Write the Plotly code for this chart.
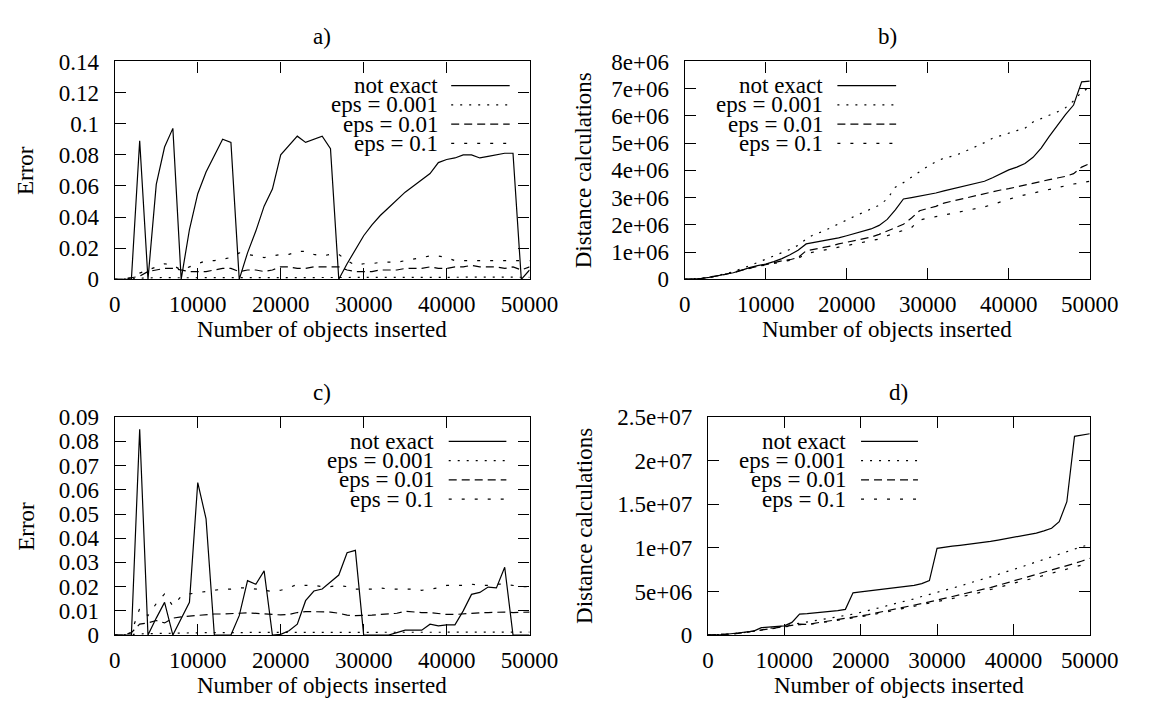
import plotly.graph_objects as go

# ---------------- data ----------------
x_objects = [0, 1000, 2000, 3000, 4000, 5000, 6000, 7000, 8000, 9000,
             10000, 11000, 12000, 13000, 14000, 15000, 16000, 17000, 18000, 19000,
             20000, 21000, 22000, 23000, 24000, 25000, 26000, 27000, 28000, 29000,
             30000, 31000, 32000, 33000, 34000, 35000, 36000, 37000, 38000, 39000,
             40000, 41000, 42000, 43000, 44000, 45000, 46000, 47000, 48000, 49000,
             50000]

series_names = ["not exact", "eps = 0.001", "eps = 0.01", "eps = 0.1"]

# panel a) error
a_not_exact = [0, 0, 0, 0.089, 0, 0.061, 0.085, 0.097, 0, 0.032,
               0.055, 0.069, 0.079, 0.090, 0.088, 0, 0.017, 0.031, 0.047, 0.058,
               0.080, 0.086, 0.092, 0.088, 0.090, 0.092, 0.084, 0, 0.010, 0.019,
               0.028, 0.035, 0.041, 0.046, 0.051, 0.056, 0.060, 0.064, 0.068, 0.075,
               0.077, 0.078, 0.080, 0.080, 0.078, 0.079, 0.080, 0.081, 0.081, 0,
               0.006]
a_eps_0001 = [0, 0, 0.0003, 0.0008, 0.001, 0.0012, 0.0012, 0.001, 0.001, 0.0011,
              0.0012, 0.0012, 0.0011, 0.001, 0.001, 0.0009, 0.001, 0.0011, 0.0012, 0.0012,
              0.0012, 0.0011, 0.0012, 0.0013, 0.0012, 0.0012, 0.0011, 0.001, 0.0011, 0.0012,
              0.0012, 0.0013, 0.0013, 0.0012, 0.0012, 0.0013, 0.0013, 0.0012, 0.0012, 0.0013,
              0.0013, 0.0013, 0.0014, 0.0013, 0.0013, 0.0013, 0.0014, 0.0014, 0.0013, 0.0013,
              0.0013]
a_eps_001 = [0, 0, 0.001, 0.002, 0.005, 0.006, 0.007, 0.007, 0.006, 0.005,
             0.005, 0.005, 0.006, 0.007, 0.007, 0.005, 0.006, 0.006, 0.005, 0.006,
             0.008, 0.008, 0.007, 0.007, 0.008, 0.008, 0.008, 0.008, 0.006, 0.005,
             0.005, 0.005, 0.006, 0.006, 0.006, 0.007, 0.007, 0.007, 0.008, 0.007,
             0.007, 0.008, 0.008, 0.009, 0.008, 0.008, 0.008, 0.007, 0.008, 0.006,
             0.008]
a_eps_01 = [0, 0, 0.001, 0.004, 0.006, 0.008, 0.010, 0.009, 0.006, 0.008,
            0.010, 0.012, 0.012, 0.013, 0.014, 0.017, 0.016, 0.015, 0.014, 0.015,
            0.016, 0.016, 0.018, 0.018, 0.016, 0.015, 0.016, 0.016, 0.012, 0.009,
            0.010, 0.010, 0.011, 0.011, 0.011, 0.012, 0.013, 0.014, 0.015, 0.015,
            0.014, 0.012, 0.012, 0.012, 0.012, 0.012, 0.012, 0.012, 0.012, 0.012,
            0.012]

# panel b) distance calculations
b_not_exact = [0, 0.01e6, 0.03e6, 0.07e6, 0.12e6, 0.17e6, 0.24e6, 0.33e6, 0.43e6, 0.50e6,
               0.56e6, 0.65e6, 0.76e6, 0.90e6, 1.07e6, 1.30e6, 1.35e6, 1.40e6, 1.45e6, 1.52e6,
               1.60e6, 1.68e6, 1.77e6, 1.85e6, 1.98e6, 2.20e6, 2.55e6, 2.95e6, 3.00e6, 3.05e6,
               3.10e6, 3.17e6, 3.25e6, 3.32e6, 3.38e6, 3.45e6, 3.52e6, 3.60e6, 3.73e6, 3.88e6,
               4.02e6, 4.12e6, 4.25e6, 4.48e6, 4.82e6, 5.25e6, 5.65e6, 6.05e6, 6.40e6, 7.25e6,
               7.28e6]
b_eps_0001 = [0, 0.01e6, 0.04e6, 0.08e6, 0.13e6, 0.20e6, 0.28e6, 0.38e6, 0.50e6, 0.62e6,
              0.75e6, 0.85e6, 0.98e6, 1.10e6, 1.25e6, 1.48e6, 1.65e6, 1.75e6, 1.90e6, 2.05e6,
              2.20e6, 2.32e6, 2.45e6, 2.60e6, 2.72e6, 2.95e6, 3.38e6, 3.55e6, 3.75e6, 3.98e6,
              4.15e6, 4.32e6, 4.45e6, 4.52e6, 4.62e6, 4.75e6, 4.88e6, 5.02e6, 5.18e6, 5.28e6,
              5.38e6, 5.46e6, 5.55e6, 5.78e6, 5.90e6, 6.02e6, 6.15e6, 6.30e6, 6.55e6, 6.88e6,
              7.05e6]
b_eps_001 = [0, 0.01e6, 0.03e6, 0.07e6, 0.12e6, 0.18e6, 0.26e6, 0.34e6, 0.42e6, 0.48e6,
             0.54e6, 0.62e6, 0.68e6, 0.72e6, 0.80e6, 1.05e6, 1.10e6, 1.15e6, 1.22e6, 1.30e6,
             1.36e6, 1.42e6, 1.48e6, 1.55e6, 1.65e6, 1.78e6, 1.90e6, 2.02e6, 2.25e6, 2.52e6,
             2.60e6, 2.68e6, 2.80e6, 2.87e6, 2.95e6, 3.02e6, 3.08e6, 3.15e6, 3.22e6, 3.28e6,
             3.33e6, 3.40e6, 3.47e6, 3.53e6, 3.59e6, 3.66e6, 3.72e6, 3.78e6, 3.88e6, 4.12e6,
             4.25e6]
b_eps_01 = [0, 0.01e6, 0.03e6, 0.07e6, 0.12e6, 0.18e6, 0.25e6, 0.33e6, 0.42e6, 0.48e6,
            0.52e6, 0.58e6, 0.64e6, 0.70e6, 0.76e6, 0.95e6, 1.00e6, 1.05e6, 1.12e6, 1.18e6,
            1.24e6, 1.30e6, 1.36e6, 1.42e6, 1.48e6, 1.60e6, 1.70e6, 1.78e6, 1.90e6, 2.18e6,
            2.25e6, 2.30e6, 2.36e6, 2.42e6, 2.47e6, 2.52e6, 2.58e6, 2.66e6, 2.75e6, 2.85e6,
            2.95e6, 3.03e6, 3.10e6, 3.17e6, 3.24e6, 3.30e6, 3.37e6, 3.43e6, 3.50e6, 3.55e6,
            3.60e6]

# panel c) error
c_not_exact = [0, 0, 0, 0.085, 0, 0.007, 0.0135, 0, 0.007, 0.0135,
               0.063, 0.048, 0, 0, 0, 0.008, 0.0225, 0.021, 0.0265, 0,
               0.0003, 0.0018, 0.0045, 0.0142, 0.0182, 0.019, 0.0218, 0.0248, 0.034, 0.035,
               0, 0, 0, 0, 0.001, 0.002, 0.002, 0.002, 0.0045, 0.0038,
               0.0042, 0.0042, 0.0100, 0.0168, 0.0176, 0.0198, 0.0195, 0.028, 0, 0,
               0]
c_eps_0001 = [0, 0, 0.0002, 0.0005, 0.0006, 0.0007, 0.0008, 0.0008, 0.0009, 0.0009,
              0.001, 0.001, 0.001, 0.0009, 0.001, 0.001, 0.0011, 0.0011, 0.001, 0.001,
              0.001, 0.0011, 0.0011, 0.0011, 0.001, 0.001, 0.0011, 0.0011, 0.0011, 0.001,
              0.001, 0.001, 0.0011, 0.0011, 0.0011, 0.0012, 0.0011, 0.0011, 0.0011, 0.0012,
              0.0012, 0.0012, 0.0011, 0.0012, 0.0012, 0.0012, 0.0012, 0.0012, 0.0012, 0.0012,
              0.0012]
c_eps_001 = [0, 0, 0.001, 0.0045, 0.005, 0.006, 0.005, 0.007, 0.0075, 0.0078,
             0.008, 0.0085, 0.0087, 0.0087, 0.009, 0.009, 0.0092, 0.009, 0.0088, 0.0085,
             0.0083, 0.0085, 0.0093, 0.0097, 0.0097, 0.0095, 0.0095, 0.009, 0.0082, 0.008,
             0.008, 0.0082, 0.0085, 0.0088, 0.009, 0.0098, 0.0095, 0.0093, 0.0093, 0.0088,
             0.0085, 0.0085, 0.0088, 0.009, 0.0092, 0.0093, 0.0095, 0.0095, 0.0093, 0.0093,
             0.0095]
c_eps_01 = [0, 0, 0.001, 0.011, 0.008, 0.013, 0.017, 0.012, 0.016, 0.017,
            0.0175, 0.018, 0.0185, 0.019, 0.019, 0.0195, 0.0195, 0.019, 0.0185, 0.018,
            0.0185, 0.0195, 0.021, 0.0205, 0.0205, 0.020, 0.020, 0.0205, 0.020, 0.019,
            0.019, 0.019, 0.0195, 0.019, 0.019, 0.019, 0.019, 0.0185, 0.019, 0.0195,
            0.0205, 0.0205, 0.0205, 0.021, 0.0205, 0.0205, 0.021, 0.021, 0.0205, 0.020,
            0.020]

# panel d) distance calculations
d_not_exact = [0, 0.02e6, 0.06e6, 0.15e6, 0.25e6, 0.35e6, 0.45e6, 0.85e6, 0.92e6, 0.98e6,
               1.05e6, 1.45e6, 2.40e6, 2.45e6, 2.52e6, 2.60e6, 2.68e6, 2.80e6, 2.95e6, 4.85e6,
               4.95e6, 5.05e6, 5.15e6, 5.25e6, 5.35e6, 5.45e6, 5.55e6, 5.70e6, 5.90e6, 6.25e6,
               9.95e6, 10.1e6, 10.2e6, 10.3e6, 10.4e6, 10.5e6, 10.6e6, 10.75e6, 10.9e6, 11.05e6,
               11.2e6, 11.35e6, 11.5e6, 11.7e6, 11.95e6, 12.25e6, 13.0e6, 15.3e6, 22.8e6, 22.95e6,
               23.1e6]
d_eps_0001 = [0, 0.02e6, 0.06e6, 0.12e6, 0.2e6, 0.3e6, 0.45e6, 0.6e6, 0.75e6, 0.88e6,
              1.0e6, 1.15e6, 1.3e6, 1.45e6, 1.6e6, 1.75e6, 1.9e6, 2.05e6, 2.2e6, 2.4e6,
              2.6e6, 2.8e6, 3.05e6, 3.25e6, 3.5e6, 3.7e6, 3.95e6, 4.15e6, 4.42e6, 4.65e6,
              4.9e6, 5.15e6, 5.4e6, 5.62e6, 5.9e6, 6.15e6, 6.4e6, 6.7e6, 6.95e6, 7.25e6,
              7.5e6, 7.8e6, 8.1e6, 8.4e6, 8.7e6, 9.0e6, 9.3e6, 9.6e6, 9.9e6, 10.15e6,
              10.4e6]
d_eps_001 = [0, 0.02e6, 0.06e6, 0.12e6, 0.2e6, 0.3e6, 0.45e6, 0.58e6, 0.7e6, 0.82e6,
             0.95e6, 1.1e6, 1.25e6, 1.22e6, 1.35e6, 1.5e6, 1.62e6, 1.75e6, 1.9e6, 2.05e6,
             2.2e6, 2.35e6, 2.52e6, 2.7e6, 2.9e6, 3.1e6, 3.28e6, 3.45e6, 3.62e6, 3.8e6,
             4.0e6, 4.18e6, 4.38e6, 4.58e6, 4.78e6, 5.0e6, 5.22e6, 5.45e6, 5.7e6, 5.95e6,
             6.2e6, 6.42e6, 6.65e6, 6.9e6, 7.15e6, 7.4e6, 7.68e6, 7.95e6, 8.22e6, 8.5e6,
             8.8e6]
d_eps_01 = [0, 0.02e6, 0.06e6, 0.12e6, 0.2e6, 0.3e6, 0.43e6, 0.56e6, 0.68e6, 0.8e6,
            0.92e6, 1.05e6, 1.2e6, 1.18e6, 1.3e6, 1.45e6, 1.56e6, 1.68e6, 1.82e6, 1.96e6,
            2.1e6, 2.25e6, 2.4e6, 2.58e6, 2.76e6, 2.95e6, 3.12e6, 3.28e6, 3.45e6, 3.62e6,
            3.8e6, 3.98e6, 4.16e6, 4.35e6, 4.55e6, 4.75e6, 4.96e6, 5.18e6, 5.42e6, 5.68e6,
            5.95e6, 6.15e6, 6.38e6, 6.6e6, 6.85e6, 7.1e6, 7.35e6, 7.6e6, 7.85e6, 8.05e6,
            8.2e6]

# ticks
x_tickvals = [0, 10000, 20000, 30000, 40000, 50000]
x_ticktext = ["0", "10000", "20000", "30000", "40000", "50000"]
a_tickvals = [0, 0.02, 0.04, 0.06, 0.08, 0.1, 0.12, 0.14]
a_ticktext = ["0", "0.02", "0.04", "0.06", "0.08", "0.1", "0.12", "0.14"]
b_tickvals = [0, 1e6, 2e6, 3e6, 4e6, 5e6, 6e6, 7e6, 8e6]
b_ticktext = ["0", "1e+06", "2e+06", "3e+06", "4e+06", "5e+06", "6e+06", "7e+06", "8e+06"]
c_tickvals = [0, 0.01, 0.02, 0.03, 0.04, 0.05, 0.06, 0.07, 0.08, 0.09]
c_ticktext = ["0", "0.01", "0.02", "0.03", "0.04", "0.05", "0.06", "0.07", "0.08", "0.09"]
d_tickvals = [0, 5e6, 1e7, 1.5e7, 2e7, 2.5e7]
d_ticktext = ["0", "5e+06", "1e+07", "1.5e+07", "2e+07", "2.5e+07"]

# ---------------- layout helpers ----------------
FONT = "Liberation Serif"
FS = 23
W, H = 1135, 695   # figure size (page body has an 8px margin)
OFF = 8


def px_x(p):
    return (p - OFF) / W


def px_y(p):
    return 1 - (p - OFF) / H


panels = [
    dict(key="", title="a)", ytitle="Error",
         xdom=(112, 540), ydom=(51, 277), yrange=[0, 0.14],
         yt=(a_tickvals, a_ticktext),
         data=[a_not_exact, a_eps_0001, a_eps_001, a_eps_01],
         leg_text_x=0.781, leg_line=(0.811, 0.952), ytitle_x=20),
    dict(key="2", title="b)", ytitle="Distance calculations",
         xdom=(700, 1118), ydom=(51, 277), yrange=[0, 8e6],
         yt=(b_tickvals, b_ticktext),
         data=[b_not_exact, b_eps_0001, b_eps_001, b_eps_01],
         leg_text_x=0.343, leg_line=(0.377, 0.522), ytitle_x=596),
    dict(key="3", title="c)", ytitle="Error",
         xdom=(112, 540), ydom=(420, 646), yrange=[0, 0.09],
         yt=(c_tickvals, c_ticktext),
         data=[c_not_exact, c_eps_0001, c_eps_001, c_eps_01],
         leg_text_x=0.771, leg_line=(0.805, 0.944), ytitle_x=20),
    dict(key="4", title="d)", ytitle="Distance calculations",
         xdom=(724, 1118), ydom=(420, 646), yrange=[0, 2.5e7],
         yt=(d_tickvals, d_ticktext),
         data=[d_not_exact, d_eps_0001, d_eps_001, d_eps_01],
         leg_text_x=0.365, leg_line=(0.401, 0.55), ytitle_x=596),
]

dashes = ["solid", "2px,7px", "8px,5px", "3px,10px"]
leg_rows = [0.889, 0.801, 0.712, 0.624]

fig = go.Figure()
annotations = []
shapes = []

axis_common = dict(
    showline=True, linecolor="black", linewidth=1.3, mirror="ticks",
    ticks="inside", ticklen=11, tickwidth=1.2, tickcolor="black",
    showgrid=False, zeroline=False,
    tickfont=dict(family=FONT, size=FS, color="black"),
)

layout_axes = {}
for p in panels:
    k = p["key"]
    xref = "x" + k
    yref = "y" + k
    for vals, dash in zip(p["data"], dashes):
        fig.add_trace(go.Scatter(
            x=x_objects, y=vals, mode="lines", xaxis=xref, yaxis=yref,
            line=dict(color="black", width=1.2, dash=dash),
            showlegend=False, hoverinfo="skip",
        ))
    layout_axes["xaxis" + k] = dict(
        axis_common, domain=[px_x(p["xdom"][0]), px_x(p["xdom"][1])],
        range=[0, 50000], anchor=yref,
        tickvals=x_tickvals, ticktext=x_ticktext, ticklabelstandoff=4,
    )
    layout_axes["yaxis" + k] = dict(
        axis_common, domain=[px_y(p["ydom"][1]), px_y(p["ydom"][0])],
        range=p["yrange"], anchor=xref,
        tickvals=p["yt"][0], ticktext=p["yt"][1], ticklabelstandoff=10,
    )
    xc = (p["xdom"][0] + p["xdom"][1]) / 2
    yc = (p["ydom"][0] + p["ydom"][1]) / 2
    # panel title
    annotations.append(dict(text=p["title"], x=px_x(xc), y=px_y(p["ydom"][0] - 26),
                            xref="paper", yref="paper", showarrow=False,
                            xanchor="center", yanchor="middle",
                            font=dict(family=FONT, size=FS, color="black")))
    # x axis title
    annotations.append(dict(text="Number of objects inserted", x=px_x(xc),
                            y=px_y(p["ydom"][1] + 52),
                            xref="paper", yref="paper", showarrow=False,
                            xanchor="center", yanchor="middle",
                            font=dict(family=FONT, size=FS, color="black")))
    # y axis title
    annotations.append(dict(text=p["ytitle"], x=px_x(p["ytitle_x"]), y=px_y(yc),
                            xref="paper", yref="paper", showarrow=False,
                            textangle=-90, xanchor="center", yanchor="middle",
                            font=dict(family=FONT, size=FS, color="black")))
    # legend (gnuplot style: text right-aligned, sample to the right)
    for name, dash, ry in zip(series_names, dashes, leg_rows):
        annotations.append(dict(text=name, x=p["leg_text_x"], y=ry,
                                xref=xref + " domain", yref=yref + " domain",
                                showarrow=False, xanchor="right", yanchor="middle",
                                borderpad=0,
                                font=dict(family=FONT, size=FS, color="black")))
        shapes.append(dict(type="line", xref=xref + " domain", yref=yref + " domain",
                           x0=p["leg_line"][0], x1=p["leg_line"][1], y0=ry, y1=ry,
                           line=dict(color="black", width=1.2, dash=dash)))

fig.update_layout(
    width=W, height=H, autosize=False,
    margin=dict(l=0, r=0, t=0, b=0),
    paper_bgcolor="white", plot_bgcolor="white",
    font=dict(family=FONT, size=FS, color="black"),
    annotations=annotations, shapes=shapes,
    **layout_axes,
)

fig.write_html("out.html")
